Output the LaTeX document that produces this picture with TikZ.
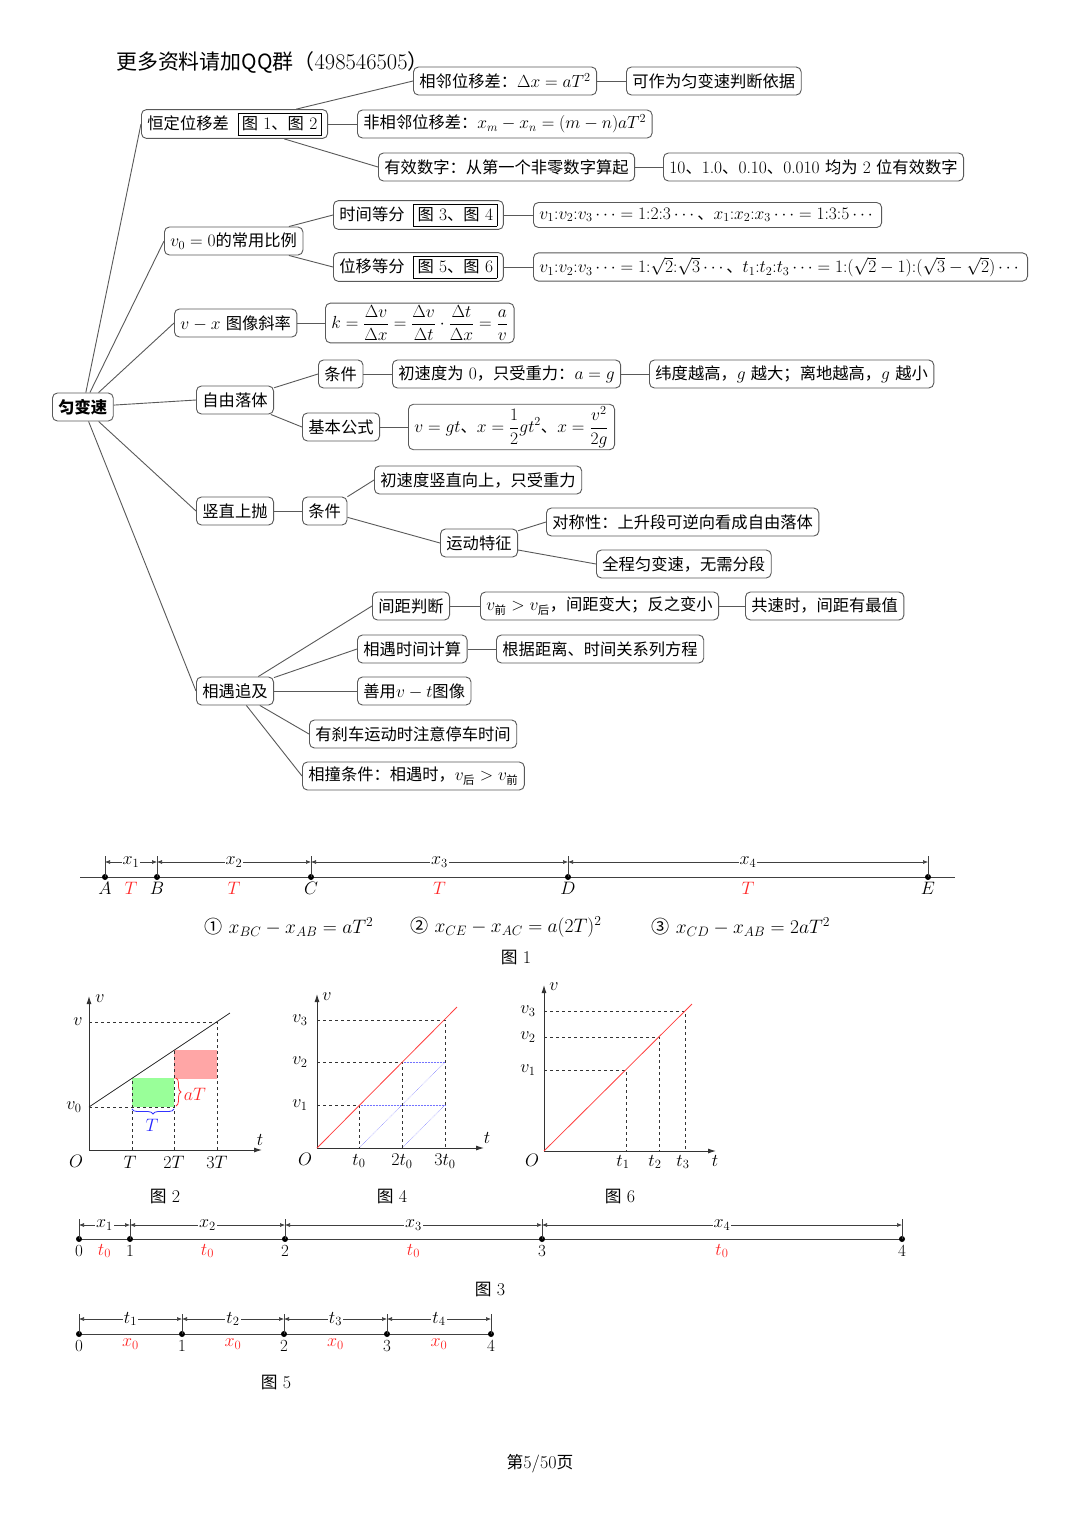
\RequirePackage{fix-cm}
\documentclass[tikz,border=0pt]{standalone}
\usepackage{amsmath}
\usepackage{fontspec}
\newfontfamily\cjk[Scale=0.93]{Noto Sans CJK SC}
\usetikzlibrary{arrows.meta,decorations.pathreplacing,calc}
\newcommand\zh[1]{{\cjk #1}}
\newcommand\zsub[1]{\text{\cjk #1}}
\setlength\fboxsep{3.5pt}
\setlength\fboxrule{0.8pt}
\tikzset{
  mm/.style={draw=black!65, line width=0.9pt, rounded corners=5pt, inner xsep=6pt, inner ysep=4pt,
    minimum height=28pt, anchor=west, font=\fontsize{17.5}{20}\selectfont, fill=white},
  ln/.style={draw=black!65, line width=0.9pt},
  numline/.style={draw=black!75, line width=0.9pt},
  tickln/.style={draw=black!75, line width=0.7pt},
  dim/.style={draw=black!75, line width=0.6pt, {Latex[length=5pt,width=4pt]}-{Latex[length=5pt,width=4pt]}},
  dimlab/.style={fill=white, inner sep=1pt, font=\fontsize{18}{21}\selectfont},
  lab/.style={font=\fontsize{18}{21}\selectfont, inner sep=1pt},
  nlab/.style={font=\fontsize{17}{20}\selectfont, inner sep=1pt},
  rlab/.style={font=\fontsize{18}{21}\selectfont, inner sep=1pt, text=red!85},
  axis/.style={draw=black!80, line width=0.9pt, -{Latex[length=8pt,width=5pt]}},
  dsh/.style={draw=black!80, dashed, line width=0.6pt},
  bdot/.style={draw=blue!55, densely dotted, line width=0.5pt},
  redline/.style={draw=red!75, line width=0.8pt},
}
\begin{document}
\begin{tikzpicture}[x=1pt,y=-1pt]
\fill[white] (0,0) rectangle (1080,1527);
\useasboundingbox (0,0) rectangle (1080,1527);

% title
\node[anchor=west, font=\fontsize{22.5}{26}\selectfont, inner sep=0pt] (title) at (116,62) {\zh{更多资料请加QQ群（}498546505\zh{）}};

% ---------- mind map ----------
\node[mm, font=\fontsize{17.5}{20}\selectfont\bfseries] (root) at (52,407) {\zh{匀变速}};

\node[mm, inner ysep=3pt] (h) at (141,124) {\zh{恒定位移差}\enspace\fbox{\zh{图} 1\zh{、图} 2}};
\node[mm] (t1) at (413,81) {\zh{相邻位移差：}$\Delta x=aT^2$};
\node[mm] (t1a) at (626,81) {\zh{可作为匀变速判断依据}};
\node[mm] (t2) at (357,124) {\zh{非相邻位移差：}$x_m-x_n=(m-n)aT^2$};
\node[mm] (t3) at (378,167) {\zh{有效数字：从第一个非零数字算起}};
\node[mm] (t3a) at (663,167) {10\zh{、}1.0\zh{、}0.10\zh{、}0.010 \zh{均为} 2 \zh{位有效数字}};

\node[mm] (v0) at (164,241) {$v_0=0$\zh{的常用比例}};
\node[mm, inner ysep=3pt] (sj) at (333,215) {\zh{时间等分}\enspace\fbox{\zh{图} 3\zh{、图} 4}};
\node[mm, inner ysep=3pt] (wy) at (333,267) {\zh{位移等分}\enspace\fbox{\zh{图} 5\zh{、图} 6}};
\node[mm, minimum height=25pt, inner ysep=2pt] (r1) at (533,215) {$v_1{:}v_2{:}v_3\cdots=1{:}2{:}3\cdots$\zh{、}$x_1{:}x_2{:}x_3\cdots=1{:}3{:}5\cdots$};
\node[mm] (r2) at (533,267) {$v_1{:}v_2{:}v_3\cdots=1{:}\sqrt2{:}\sqrt3\cdots$\zh{、}$t_1{:}t_2{:}t_3\cdots=1{:}(\sqrt2-1){:}(\sqrt3-\sqrt2)\cdots$};

\node[mm] (vx) at (174,323) {$v-x$ \zh{图像斜率}};
\node[mm, inner ysep=2pt] (k) at (325,323) {$k=\dfrac{\Delta v}{\Delta x}=\dfrac{\Delta v}{\Delta t}\cdot\dfrac{\Delta t}{\Delta x}=\dfrac{a}{v}$};

\node[mm] (zy) at (196,400) {\zh{自由落体}};
\node[mm] (tj1) at (318,374) {\zh{条件}};
\node[mm] (tj1a) at (392,374) {\zh{初速度为} 0\zh{，只受重力：}$a=g$};
\node[mm] (tj1b) at (649,374) {\zh{纬度越高，}$g$ \zh{越大；离地越高，}$g$ \zh{越小}};
\node[mm] (gs) at (302,427) {\zh{基本公式}};
\node[mm, inner ysep=2pt] (gsa) at (408,427) {$v=gt$\zh{、}$x=\dfrac12gt^2$\zh{、}$x=\dfrac{v^2}{2g}$};

\node[mm] (sz) at (196,511) {\zh{竖直上抛}};
\node[mm] (tj2) at (302,511) {\zh{条件}};
\node[mm] (tj2a) at (374,480) {\zh{初速度竖直向上，只受重力}};
\node[mm] (yd) at (440,543) {\zh{运动特征}};
\node[mm] (dc) at (546,522) {\zh{对称性：上升段可逆向看成自由落体}};
\node[mm] (qc) at (596,564) {\zh{全程匀变速，无需分段}};

\node[mm] (xy) at (196,691) {\zh{相遇追及}};
\node[mm] (jj) at (372,606) {\zh{间距判断}};
\node[mm] (jja) at (480,606) {$v_{\zsub{前}}>v_{\zsub{后}}$\zh{，间距变大；反之变小}};
\node[mm] (jjb) at (745,606) {\zh{共速时，间距有最值}};
\node[mm] (sjjs) at (357,649) {\zh{相遇时间计算}};
\node[mm] (sjjsa) at (496,649) {\zh{根据距离、时间关系列方程}};
\node[mm] (sy) at (357,691) {\zh{善用}$v-t$\zh{图像}};
\node[mm] (sc) at (309,734) {\zh{有刹车运动时注意停车时间}};
\node[mm] (xz) at (302,776) {\zh{相撞条件：相遇时，}$v_{\zsub{后}}>v_{\zsub{前}}$};

% connectors
\draw[ln] (root) -- (h.west);
\draw[ln] (root) -- (v0.west);
\draw[ln] (root) -- (vx.west);
\draw[ln] (root) -- (zy.west);
\draw[ln] (root) -- (sz.west);
\draw[ln] (root) -- (xy.west);
\draw[ln] (h) -- (t1.west);
\draw[ln] (h) -- (t2.west);
\draw[ln] (h) -- (t3.west);
\draw[ln] (t1) -- (t1a);
\draw[ln] (t3) -- (t3a);
\draw[ln] (v0) -- (sj.west);
\draw[ln] (v0) -- (wy.west);
\draw[ln] (sj) -- (r1);
\draw[ln] (wy) -- (r2);
\draw[ln] (vx) -- (k);
\draw[ln] (zy) -- (tj1.west);
\draw[ln] (zy) -- (gs.west);
\draw[ln] (tj1) -- (tj1a);
\draw[ln] (tj1a) -- (tj1b);
\draw[ln] (gs) -- (gsa);
\draw[ln] (sz) -- (tj2);
\draw[ln] (tj2) -- (tj2a.west);
\draw[ln] (tj2) -- (yd.west);
\draw[ln] (yd) -- (dc.west);
\draw[ln] (yd) -- (qc.west);
\draw[ln] (xy) -- (jj.west);
\draw[ln] (xy) -- (sjjs.west);
\draw[ln] (xy) -- (sy.west);
\draw[ln] (xy) -- (sc.west);
\draw[ln] (xy) -- (xz.west);
\draw[ln] (jj) -- (jja);
\draw[ln] (jja) -- (jjb);
\draw[ln] (sjjs) -- (sjjsa);

% ---------- Figure 1 ----------
\coordinate (L1) at (80,877);
\coordinate (R1) at (955,877);
\coordinate (A) at (105,877);
\coordinate (B) at (157,877);
\coordinate (C) at (311,877);
\coordinate (D) at (568,877);
\coordinate (E) at (928,877);
\draw[numline] (L1) -- (R1);
\foreach \p in {A,B,C,D,E}{
  \fill[black] (\p) circle (3pt);
  \draw[tickln] (\p) -- ++(0,-21);
}
\draw[dim] ($(A)+(0,-15)$) -- node[dimlab]{$x_1$} ($(B)+(0,-15)$);
\draw[dim] ($(B)+(0,-15)$) -- node[dimlab]{$x_2$} ($(C)+(0,-15)$);
\draw[dim] ($(C)+(0,-15)$) -- node[dimlab]{$x_3$} ($(D)+(0,-15)$);
\draw[dim] ($(D)+(0,-15)$) -- node[dimlab]{$x_4$} ($(E)+(0,-15)$);
\foreach \p in {A,B,C,D,E}{
  \node[lab, below=4pt] at (\p) {$\p$};
}
\node[rlab, below=4pt] at ($(A)!0.5!(B)$) {$T$};
\node[rlab, below=4pt] at ($(B)!0.5!(C)$) {$T$};
\node[rlab, below=4pt] at ($(C)!0.5!(D)$) {$T$};
\node[rlab, below=4pt] at ($(D)!0.5!(E)$) {$T$};
\node[lab, font=\fontsize{19.5}{23}\selectfont] (eq1) at (289,927) {\zh{①} $x_{BC}-x_{AB}=aT^2$};
\node[lab, font=\fontsize{19.5}{23}\selectfont] (eq2) at (506,927) {\zh{②} $x_{CE}-x_{AC}=a(2T)^2$};
\node[lab, font=\fontsize{19.5}{23}\selectfont] (eq3) at (741,927) {\zh{③} $x_{CD}-x_{AB}=2aT^2$};
\node[lab] (f1) at (516,957) {\zh{图} 1};

% ---------- Figure 2 ----------
\coordinate (O2) at (89,1150);
\fill[green!40!white] (132,1107) rectangle (174,1078);
\fill[red!35!white] (174,1079) rectangle (217,1050);
\draw[dsh] (89,1022) -- (217,1022);
\draw[dsh] (89,1107) -- (174,1107);
\draw[dsh] (132,1150) -- (132,1078);
\draw[dsh] (174,1150) -- (174,1050);
\draw[dsh] (217,1150) -- (217,1022);
\draw[axis] (O2) -- (262,1150);
\draw[axis] (O2) -- (89,996);
\draw[black!85, line width=0.8pt] (89,1107) -- (230,1013);
\draw[blue!80, line width=0.8pt, decorate, decoration={brace, amplitude=5pt}] (174,1109) -- (132,1109);
\draw[red!80, line width=0.8pt, decorate, decoration={brace, amplitude=5pt}] (176,1078) -- (176,1106);
\node[lab, text=blue!85] at (152,1125) {$T$};
\node[lab, text=red!85] at (195,1094) {$aT$};
\node[lab] at (100,999) {$v$};
\node[lab] at (260,1140) {$t$};
\node[lab] at (76,1161) {$O$};
\node[lab] at (74,1107) {$v_0$};
\node[lab] at (78,1022) {$v$};
\node[lab] at (130,1162) {$T$};
\node[lab] at (174,1162) {$2T$};
\node[lab] at (217,1162) {$3T$};
\node[lab] (f2) at (165,1196) {\zh{图} 2};

% ---------- Figure 4 ----------
\coordinate (O4) at (317,1148);
\draw[bdot] (359,1105) -- (445,1105);
\draw[bdot] (402,1062) -- (445,1062);
\draw[bdot] (359,1148) -- (445,1062);
\draw[bdot] (402,1148) -- (445,1105);
\draw[dsh] (317,1105) -- (359,1105) -- (359,1148);
\draw[dsh] (317,1062) -- (402,1062) -- (402,1148);
\draw[dsh] (317,1020) -- (445,1020) -- (445,1148);
\draw[axis] (O4) -- (484,1148);
\draw[axis] (O4) -- (317,994);
\draw[redline] (O4) -- (457,1007);
\node[lab] at (327,997) {$v$};
\node[lab] at (487,1138) {$t$};
\node[lab] at (305,1159) {$O$};
\node[lab] at (359,1161) {$t_0$};
\node[lab] at (402,1161) {$2t_0$};
\node[lab] at (445,1161) {$3t_0$};
\node[lab] at (300,1105) {$v_1$};
\node[lab] at (300,1062) {$v_2$};
\node[lab] at (300,1020) {$v_3$};
\node[lab] (f4) at (392,1196) {\zh{图} 4};

% ---------- Figure 6 ----------
\coordinate (O6) at (544,1151);
\draw[dsh] (544,1070) -- (626,1070) -- (626,1151);
\draw[dsh] (544,1037) -- (659,1037) -- (659,1151);
\draw[dsh] (544,1011) -- (685,1011) -- (685,1151);
\draw[axis] (O6) -- (716,1151);
\draw[axis] (O6) -- (544,985);
\draw[redline] (O6) -- (692,1004);
\node[lab] at (554,987) {$v$};
\node[lab] at (715,1161) {$t$};
\node[lab] at (532,1160) {$O$};
\node[lab] at (623,1162) {$t_1$};
\node[lab] at (655,1162) {$t_2$};
\node[lab] at (683,1162) {$t_3$};
\node[lab] at (528,1070) {$v_1$};
\node[lab] at (528,1037) {$v_2$};
\node[lab] at (528,1011) {$v_3$};
\node[lab] (f6) at (620,1196) {\zh{图} 6};

% ---------- Figure 3 ----------
\coordinate (P0) at (79,1239);
\coordinate (P1) at (130,1239);
\coordinate (P2) at (285,1239);
\coordinate (P3) at (542,1239);
\coordinate (P4) at (902,1239);
\draw[numline] (P0) -- (P4);
\foreach \p/\n in {P0/0,P1/1,P2/2,P3/3,P4/4}{
  \fill[black] (\p) circle (3pt);
  \draw[tickln] (\p) -- ++(0,-20);
  \node[nlab, below=5pt] at (\p) {\n};
}
\draw[dim] ($(P0)+(0,-14)$) -- node[dimlab]{$x_1$} ($(P1)+(0,-14)$);
\draw[dim] ($(P1)+(0,-14)$) -- node[dimlab]{$x_2$} ($(P2)+(0,-14)$);
\draw[dim] ($(P2)+(0,-14)$) -- node[dimlab]{$x_3$} ($(P3)+(0,-14)$);
\draw[dim] ($(P3)+(0,-14)$) -- node[dimlab]{$x_4$} ($(P4)+(0,-14)$);
\node[rlab, below=4pt] at ($(P0)!0.5!(P1)$) {$t_0$};
\node[rlab, below=4pt] at ($(P1)!0.5!(P2)$) {$t_0$};
\node[rlab, below=4pt] at ($(P2)!0.5!(P3)$) {$t_0$};
\node[rlab, below=4pt] at ($(P3)!0.5!(P4)$) {$t_0$};
\node[lab] (f3) at (490,1289) {\zh{图} 3};

% ---------- Figure 5 ----------
\coordinate (Q0) at (79,1334);
\coordinate (Q1) at (182,1334);
\coordinate (Q2) at (284,1334);
\coordinate (Q3) at (387,1334);
\coordinate (Q4) at (491,1334);
\draw[numline] (Q0) -- (Q4);
\foreach \p/\n in {Q0/0,Q1/1,Q2/2,Q3/3,Q4/4}{
  \fill[black] (\p) circle (3pt);
  \draw[tickln] (\p) -- ++(0,-20);
  \node[nlab, below=5pt] at (\p) {\n};
}
\draw[dim] ($(Q0)+(0,-15)$) -- node[dimlab]{$t_1$} ($(Q1)+(0,-15)$);
\draw[dim] ($(Q1)+(0,-15)$) -- node[dimlab]{$t_2$} ($(Q2)+(0,-15)$);
\draw[dim] ($(Q2)+(0,-15)$) -- node[dimlab]{$t_3$} ($(Q3)+(0,-15)$);
\draw[dim] ($(Q3)+(0,-15)$) -- node[dimlab]{$t_4$} ($(Q4)+(0,-15)$);
\node[rlab, below=4pt] at ($(Q0)!0.5!(Q1)$) {$x_0$};
\node[rlab, below=4pt] at ($(Q1)!0.5!(Q2)$) {$x_0$};
\node[rlab, below=4pt] at ($(Q2)!0.5!(Q3)$) {$x_0$};
\node[rlab, below=4pt] at ($(Q3)!0.5!(Q4)$) {$x_0$};
\node[lab] (f5) at (276,1382) {\zh{图} 5};

% page number
\node[lab] (pg) at (540,1464) {\zh{第}5/50\zh{页}};
\end{tikzpicture}
\end{document}
